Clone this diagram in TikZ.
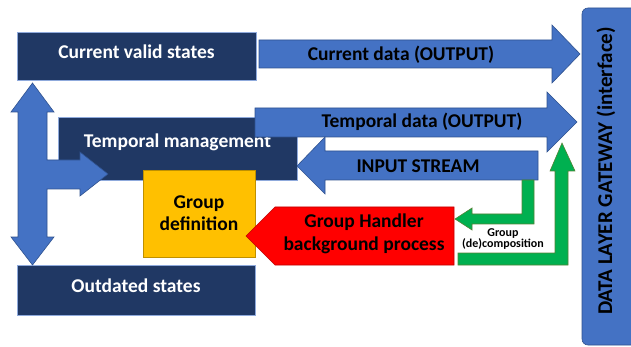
\documentclass[tikz,border=0pt]{standalone}
\usepackage{fontspec}
\setmainfont{Carlito}
\definecolor{navy}{HTML}{203864}
\definecolor{navyline}{HTML}{8FAADC}
\definecolor{arrowblue}{HTML}{4472C4}
\definecolor{arrowline}{HTML}{2F528F}
\definecolor{gold}{HTML}{FFC000}
\definecolor{goldline}{HTML}{BF9000}
\definecolor{handlerred}{HTML}{FF0000}
\definecolor{redline}{HTML}{C00000}
\definecolor{flowgreen}{HTML}{00B050}
\definecolor{greenline}{HTML}{548235}

\begin{document}
\begin{tikzpicture}[x=1pt,y=-1pt,
    statebox/.style={fill=navy, draw=navyline, line width=0.6pt},
    blockarrow/.style={fill=arrowblue, draw=arrowline, line width=0.6pt},
    greenarrow/.style={fill=flowgreen, draw=greenline, line width=0.6pt},
    boxtext/.style={font=\fontsize{19.5}{22.5}\selectfont\bfseries, align=center},
    smalltext/.style={font=\fontsize{12}{10.5}\selectfont\bfseries, align=center}]
    \useasboundingbox (0,0) rectangle (631,347);

    % state boxes
    \draw [statebox] (17,32) rectangle (256,80);
    \node (current) at (136.5,52) [boxtext, text=white] {Current valid states};
    \draw [statebox] (58,117) rectangle (297,180);
    \node (temporal) at (177.5,142) [boxtext, text=white] {Temporal management};
    \draw [statebox] (17,265) rectangle (255,315);
    \node (outdated) at (136,286) [boxtext, text=white] {Outdated states};

    % three-way arrow on the left
    \draw [blockarrow] (32.5,83) -- (54,112) -- (47,112) -- (47,160) -- (80,160)
        -- (80,152) -- (108,174) -- (80,196) -- (80,189) -- (47,189) -- (47,237)
        -- (54,237) -- (32.5,265) -- (11,237) -- (18,237) -- (18,112) -- (11,112) -- cycle;

    % output and input arrows
    \draw [blockarrow] (259,40) -- (552,40) -- (552,25) -- (580,54) -- (552,83)
        -- (552,68) -- (259,68) -- cycle;
    \node (currentdata) at (401,55) [boxtext] {Current data (OUTPUT)};
    \draw [blockarrow] (255,108) -- (547,108) -- (547,92) -- (577,122) -- (547,152)
        -- (547,137) -- (255,137) -- cycle;
    \node (temporaldata) at (422,122) [boxtext] {Temporal data (OUTPUT)};
    \draw [blockarrow] (538,151) -- (325,151) -- (325,137) -- (297,166) -- (325,194)
        -- (325,180) -- (538,180) -- cycle;
    \node (input) at (418,166) [boxtext] {INPUT STREAM};

    % group definition
    \draw [fill=gold, draw=goldline, line width=0.6pt] (143,170) rectangle (255,257);
    \node (groupdef) at (199,213) [boxtext] {Group\\definition};

    % group handler
    \draw [fill=handlerred, draw=redline, line width=0.6pt] (454,207) -- (275,207)
        -- (246,236) -- (275,265) -- (454,265) -- cycle;
    \node (handler) at (364,234) [boxtext] {Group Handler\\background process};

    % green arrows
    \draw [greenarrow] (522,180) -- (534,180) -- (534,224) -- (472,224) -- (472,230)
        -- (455,219) -- (472,208) -- (472,214) -- (522,214) -- cycle;
    \draw [greenarrow] (458,253) -- (555,253) -- (555,171) -- (550,171) -- (562,143)
        -- (575,171) -- (568,171) -- (568,265) -- (458,265) -- cycle;
    \node (decomp) at (503,239) [smalltext] {Group\\(de)composition};

    % gateway
    \draw [fill=arrowblue, draw=arrowline, line width=0.6pt, rounded corners=6pt] (582,8) rectangle (660,345);
    \node (gateway) at (606,171) [boxtext, rotate=90, font=\fontsize{21}{24}\selectfont\bfseries] {DATA LAYER GATEWAY (interface)};
\end{tikzpicture}
\end{document}
